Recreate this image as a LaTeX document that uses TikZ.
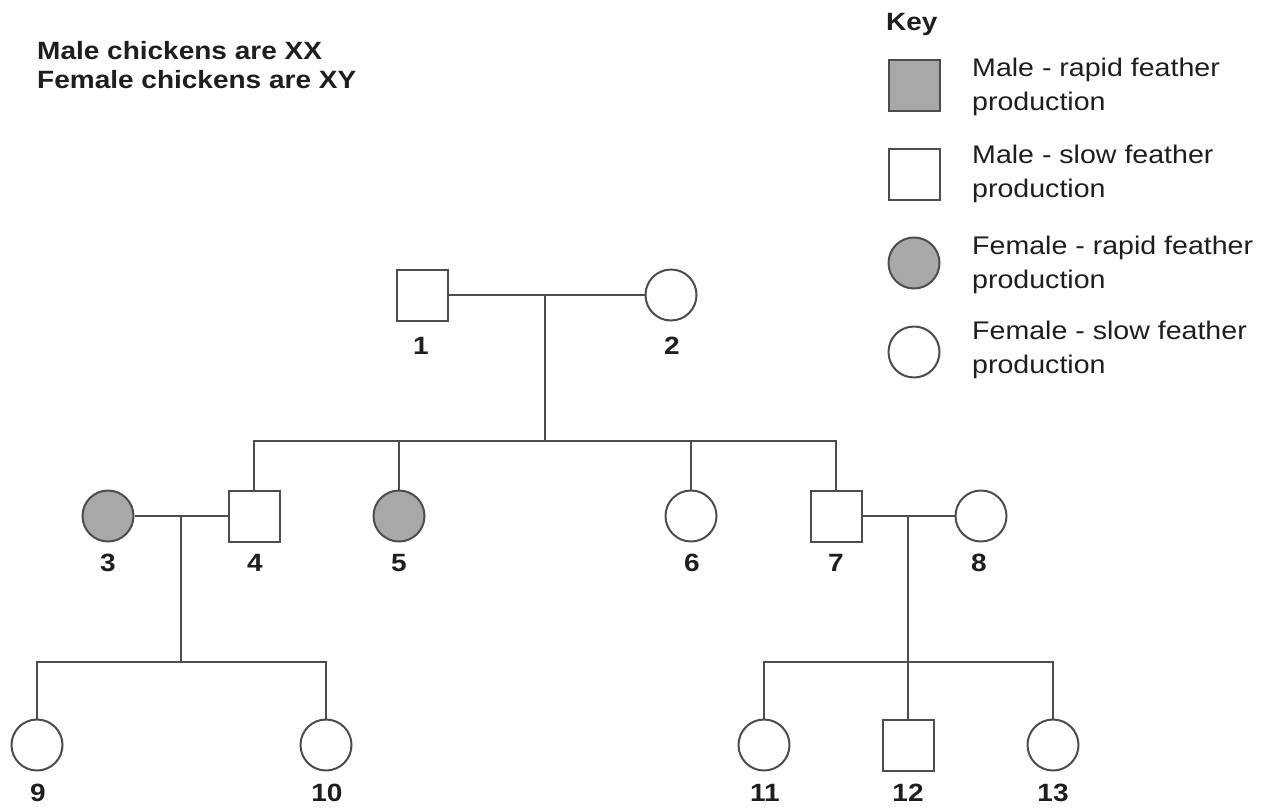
\documentclass[tikz,border=0pt]{standalone}
\usepackage{fontspec}
\setmainfont[FakeStretch=1.12]{Liberation Sans}
\definecolor{lineC}{HTML}{4D4D4D}
\definecolor{fillC}{HTML}{A8A8A8}
\definecolor{textC}{HTML}{1E1E1E}
\begin{document}
\begin{tikzpicture}[x=1pt,y=-1pt,
  conn/.style={draw=lineC, line width=2pt},
  male/.style={rectangle, draw=lineC, line width=2pt, fill=white, minimum size=51pt, inner sep=0pt},
  female/.style={circle, draw=lineC, line width=2pt, fill=white, minimum size=51pt, inner sep=0pt},
  rapid/.style={fill=fillC},
  num/.style={font=\bfseries\fontsize{25}{29}\selectfont, text=textC, inner sep=0pt},
  head/.style={font=\bfseries\fontsize{25}{29}\selectfont, text=textC, inner sep=0pt, anchor=base west, align=left},
  keytext/.style={font=\fontsize{25.5}{34}\selectfont, text=textC, inner sep=0pt, anchor=base west, align=left}
]
\useasboundingbox (0,0) rectangle (1263,806);

% heading
\node[head] (hdr1) at (37,59) {Male chickens are XX};
\node[head] (hdr2) at (37,88) {Female chickens are XY};

% key
\node[head] (keyt) at (886,30) {Key};
\node[male, rapid] (k1) at (914,85) {};
\node[male] (k2) at (914,174) {};
\node[female, rapid] (k3) at (914,263) {};
\node[female] (k4) at (914,352) {};
\node[keytext] (k1t) at (972,110) {Male - rapid feather\\production};
\node[keytext] (k2t) at (972,197) {Male - slow feather\\production};
\node[keytext] (k3t) at (972,288) {Female - rapid feather\\production};
\node[keytext] (k4t) at (972,373) {Female - slow feather\\production};

% generation I
\node[male] (n1) at (422,295) {};
\node[female] (n2) at (671,295) {};
% generation II
\node[female, rapid] (n3) at (108,516) {};
\node[male] (n4) at (254,516) {};
\node[female, rapid] (n5) at (399,516) {};
\node[female] (n6) at (691,516) {};
\node[male] (n7) at (836,516) {};
\node[female] (n8) at (981,516) {};
% generation III
\node[female] (n9) at (37,745) {};
\node[female] (n10) at (326,745) {};
\node[female] (n11) at (764,745) {};
\node[male] (n12) at (908,745) {};
\node[female] (n13) at (1053,745) {};

% labels
\node[num] (l1) at (421,346) {1};
\node[num] (l2) at (672,346) {2};
\node[num] (l3) at (108,563) {3};
\node[num] (l4) at (255,563) {4};
\node[num] (l5) at (399,563) {5};
\node[num] (l6) at (692,563) {6};
\node[num] (l7) at (836,563) {7};
\node[num] (l8) at (979,563) {8};
\node[num] (l9) at (38,793) {9};
\node[num] (l10) at (327,793) {10};
\node[num] (l11) at (765,793) {11};
\node[num] (l12) at (908,793) {12};
\node[num] (l13) at (1053,793) {13};

% connection points
\coordinate (m12) at (545,295);
\coordinate (s12) at (545,441);
\coordinate (m34) at (181,516);
\coordinate (s34) at (181,662);
\coordinate (m78) at (908,516);
\coordinate (s78) at (908,662);

% connectors
\draw[conn] (n1.east) -- (n2.west);
\draw[conn] (m12) -- (s12);
\draw[conn] (n4.north) |- (s12) -| (n7.north);
\draw[conn] (n5.north) -- (n5.north |- s12);
\draw[conn] (n6.north) -- (n6.north |- s12);

\draw[conn] (n3.east) -- (n4.west);
\draw[conn] (m34) -- (s34);
\draw[conn] (n9.north) |- (s34) -| (n10.north);

\draw[conn] (n7.east) -- (n8.west);
\draw[conn] (m78) -- (s78);
\draw[conn] (n11.north) |- (s78) -| (n13.north);
\draw[conn] (s78) -- (n12.north);
\end{tikzpicture}
\end{document}
